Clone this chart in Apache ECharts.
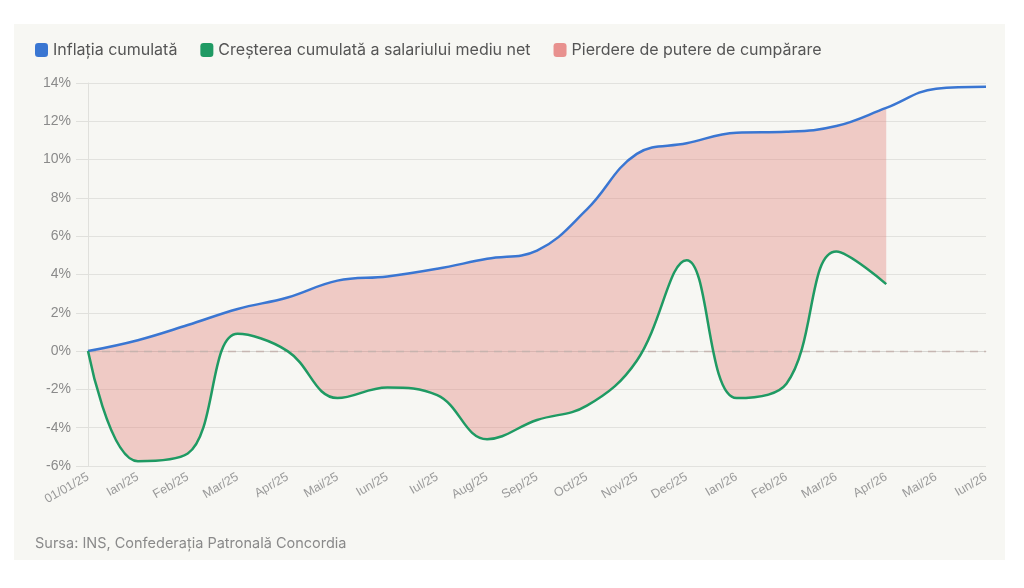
<!DOCTYPE html>
<html>
<head>
<meta charset="utf-8">
<script src="https://cdn.jsdelivr.net/npm/echarts@6/dist/echarts.min.js"></script>
<style>
html,body{margin:0;padding:0;background:#ffffff;}
#chart{width:1024px;height:588px;}
</style>
</head>
<body>
<div id="chart"></div>
<script>
var categories = ['01/01/25','Ian/25','Feb/25','Mar/25','Apr/25','Mai/25','Iun/25','Iul/25','Aug/25','Sep/25','Oct/25','Nov/25','Dec/25','Ian/26','Feb/26','Mar/26','Apr/26','Mai/26','Iun/26'];
var inflation = [0, 0.57, 1.36, 2.2, 2.8, 3.68, 3.9, 4.3, 4.82, 5.25, 7.4, 10.3, 10.85, 11.4, 11.45, 11.75, 12.7, 13.7, 13.8];
var wages = [0, -5.75, -5.35, 0.9, 0.0, -2.45, -1.9, -2.3, -4.6, -3.6, -2.85, -0.5, 4.75, -2.45, -1.7, 5.2, 3.5];
var yTicks = {min: -6, max: 14, interval: 2};

var lossGap = wages.map(function (w, i) { return +(inflation[i] - w).toFixed(3); });

var chart = echarts.init(document.getElementById('chart'));
var smooth = 0.4;
chart.setOption({
  backgroundColor: '#ffffff',
  animation: false,
  graphic: {
    elements: [{
      type: 'rect', z: -100, silent: true,
      shape: {x: 14, y: 24, width: 991, height: 536},
      style: {fill: '#f7f7f3'}
    }, {
      type: 'text', left: 35, top: 536, z: 10,
      style: {text: 'Sursa: INS, Confederația Patronală Concordia', fill: '#8a8a8a', font: '14.5px Inter, "Noto Sans", sans-serif'}
    }]
  },
  legend: {
    left: 30, top: 37,
    data: ['Inflația cumulată', 'Creșterea cumulată a salariului mediu net', 'Pierdere de putere de cumpărare'],
    icon: 'roundRect',
    itemWidth: 13, itemHeight: 14, itemGap: 23,
    textStyle: {color: '#555555', fontSize: 16, fontFamily: 'Inter, "Noto Sans", sans-serif'}
  },
  grid: {left: 88, right: 38, top: 83, bottom: 122, containLabel: false},
  xAxis: {
    type: 'category', data: categories, boundaryGap: false,
    axisLine: {show: true, lineStyle: {color: '#d6d6d2'}},
    axisTick: {show: false},
    axisLabel: {rotate: 30, color: '#9a9a9a', fontSize: 12.5, fontFamily: '"Liberation Sans", Arial, sans-serif', interval: 0, margin: 10},
    splitLine: {show: false}
  },
  yAxis: {
    type: 'value', min: yTicks.min, max: yTicks.max, interval: yTicks.interval,
    axisLine: {show: true, lineStyle: {color: '#e0e0dc'}},
    axisTick: {show: true, length: 12, lineStyle: {color: '#e0e0dc'}},
    axisLabel: {formatter: '{value}%', color: '#8a8a8a', fontSize: 14, fontFamily: '"Liberation Sans", Arial, sans-serif', margin: 17},
    splitLine: {show: true, lineStyle: {color: '#e2e2de', width: 1}}
  },
  series: [
    {
      name: 'base', type: 'line', stack: 'loss', stackStrategy: 'all', data: wages, smooth: smooth,
      symbol: 'none', lineStyle: {opacity: 0}, silent: true, z: 1
    },
    {
      name: 'Pierdere de putere de cumpărare', type: 'line', stack: 'loss', stackStrategy: 'all', data: lossGap, smooth: smooth,
      symbol: 'none', lineStyle: {opacity: 0, width: 0},
      itemStyle: {color: '#e8918e'},
      areaStyle: {color: 'rgba(226,130,124,0.38)', opacity: 1}, z: 1
    },
    {
      name: 'Inflația cumulată', type: 'line', data: inflation, smooth: smooth,
      symbol: 'none', itemStyle: {color: '#3a76d2'}, lineStyle: {color: '#3a76d2', width: 2.5}, z: 3,
      markLine: {
        silent: true, symbol: 'none', label: {show: false}, z: 2,
        lineStyle: {color: '#c4b2ae', type: [8, 6], width: 1.3, opacity: 0.9},
        data: [{yAxis: 0}]
      }
    },
    {
      name: 'Creșterea cumulată a salariului mediu net', type: 'line', data: wages, smooth: smooth,
      symbol: 'none', itemStyle: {color: '#1f9a63'}, lineStyle: {color: '#1f9a63', width: 2.5}, z: 3
    }
  ]
});
</script>
</body>
</html>
